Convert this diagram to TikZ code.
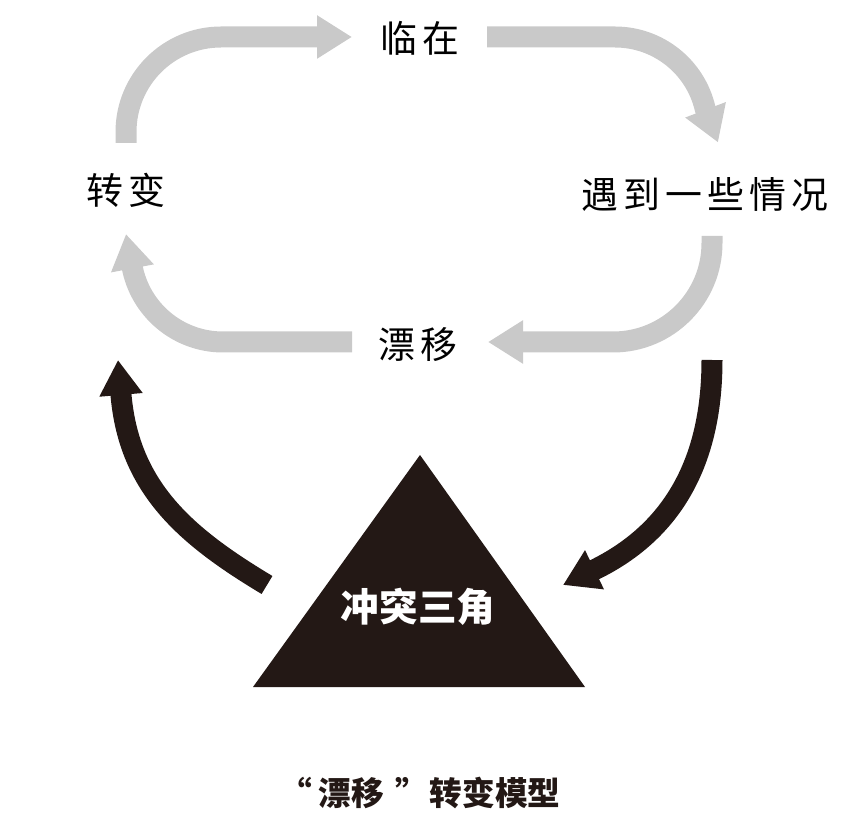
\documentclass[tikz,border=0pt]{standalone}
\usepackage{fontspec}
\usepackage{xcolor}
\usetikzlibrary{arrows.meta}
\newfontfamily\cjk{Noto Sans CJK SC}
\newfontfamily\cjkspaced[LetterSpace=14]{Noto Sans CJK SC}
\definecolor{loopgray}{HTML}{C9C9C9}
\definecolor{inkdark}{HTML}{231815}

\begin{document}
\begin{tikzpicture}[
    label/.style={font=\cjkspaced\fontsize{21pt}{24pt}\selectfont,text=black,inner sep=2pt},
    loopflow/.style={draw=loopgray,line width=0.42cm,
                     -{Triangle[length=0.7cm,width=0.82cm]}},
    pushflow/.style={draw=inkdark,line width=0.42cm,
                     -{Triangle[length=0.7cm,width=0.82cm]}}]
    \useasboundingbox (0,0) rectangle (16.88,16.5);
    % the four stages of the loop
    \node[label] (lin)   at (8.40,15.74) {临在};
    \node[label] (yu)    at (14.10,12.62) {遇到一些情况};
    \node[label] (piao)  at (8.36,9.60) {漂移};
    \node[label] (zhuan) at (2.52,12.70) {转变};
    % conflict triangle
    \fill[inkdark] (8.40,7.40) -- (11.70,2.76) -- (5.06,2.76) -- cycle;
    \node[font=\cjk\bfseries\fontsize{22pt}{24pt}\selectfont,text=white] (tri)
      at (8.36,4.36) {冲突三角};
    \node[font=\cjk\bfseries\fontsize{18.6pt}{22pt}\selectfont,text=inkdark] (title)
      at (8.40,0.64) {“\kern0.2em漂移\kern0.35em”\kern0.05em转变模型};
    % loop arrows
    \coordinate (zhuan-out) at (2.52,13.64);
    \coordinate (lin-in)    at (7.04,15.76);
    \coordinate (lin-out)   at (9.74,15.76);
    \coordinate (yu-in)     at (14.36,13.65);
    \coordinate (yu-out)    at (14.24,11.78);
    \coordinate (piao-in)   at (9.76,9.66);
    \coordinate (piao-out)  at (7.04,9.66);
    \coordinate (zhuan-in)  at (2.52,11.82);
    \draw[loopflow] (zhuan-out) -- ++(0,0.22)
      arc[start angle=180,end angle=90,radius=1.9] -- (lin-in);
    \draw[loopflow] (lin-out) -- (12.3,15.76)
      arc[start angle=90,end angle=13,radius=1.85] -- (yu-in);
    \draw[loopflow] (yu-out) -- (14.24,11.64)
      arc[start angle=0,end angle=-90,radius=1.98] -- (piao-in);
    \draw[loopflow] (piao-out) -- (4.46,9.66)
      arc[start angle=270,end angle=190,radius=1.85] -- (zhuan-in);
    % arrows into and out of the triangle
    \coordinate (tri-out) at (5.34,4.80);
    \coordinate (tri-in)  at (11.26,4.80);
    \coordinate (zhuan-up) at (2.36,9.30);
    \coordinate (yu-down)  at (14.24,9.30);
    \draw[pushflow] (tri-out) to[out=149,in=-85] (2.42,8.60) -- (zhuan-up);
    \draw[pushflow] (yu-down) to[out=-90,in=26] (11.88,5.10) -- (tri-in);
  \end{tikzpicture}
\end{document}
